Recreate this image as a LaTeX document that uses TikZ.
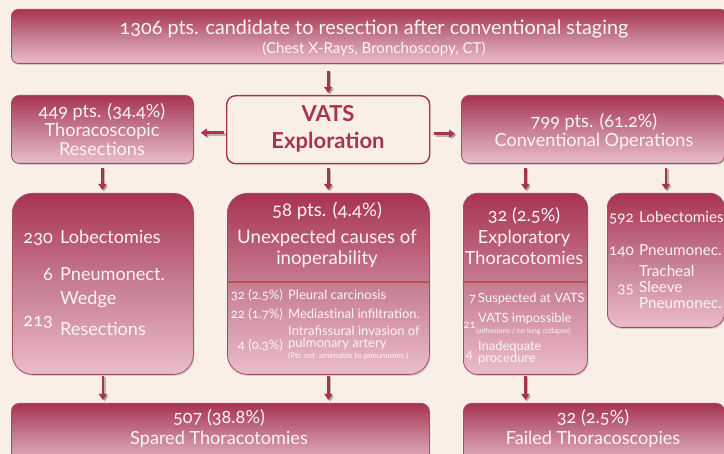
\documentclass[tikz,border=0pt]{standalone}
\usepackage{fontspec}
\setmainfont{Lato}[Numbers=OldStyle]
\usetikzlibrary{arrows.meta,shadows,calc}
\definecolor{bg}{HTML}{F9EFE6}
\definecolor{ctop}{HTML}{A8334F}
\definecolor{cmid}{HTML}{C67D92}
\definecolor{cbot}{HTML}{EBBDC9}
\definecolor{cline}{HTML}{A04D66}
\definecolor{arrowc}{HTML}{A8334F}
\definecolor{sepcol}{HTML}{C24E4E}
\definecolor{txt}{HTML}{FDF4F4}
\newcommand\fs[2]{\fontsize{#1}{#2}\selectfont}
\begin{document}
\begin{tikzpicture}[x=1pt,y=-1pt,
  box/.style={draw=cline, line width=0.8pt, top color=ctop, bottom color=cbot,
    middle color=cmid, inner sep=0pt, anchor=north west,
    drop shadow={shadow xshift=1pt,shadow yshift=-1.5pt,opacity=0.3}},
  vbox/.style={draw=arrowc, line width=1.4pt, fill=bg, inner sep=0pt, anchor=north west},
  t/.style={text=txt, inner sep=0pt},
  big/.style={t, font=\fs{18.1}{19}, align=center},
  lst/.style={t, font=\fs{13}{11}},
  arr/.style={draw=arrowc, line width=2.6pt, -{Triangle[width=8pt,length=6pt]}},
  arrsh/.style={draw=black!45, opacity=0.6, line width=2.6pt, -{Triangle[width=8pt,length=6pt]}, transform canvas={shift={(1.6pt,-1.6pt)}}},
  sep/.style={draw=sepcol, line width=1.5pt}
]
\newcommand\conn[3]{\draw[arrsh,#3] #1 -- #2; \draw[arr,#3] #1 -- #2;}
\useasboundingbox[fill=bg] (0,0) rectangle (724,454);

% boxes
\node[box, rounded corners=7pt, minimum width=716pt, minimum height=54pt] (top) at (11,9) {};
\node[box, rounded corners=8pt, minimum width=182pt, minimum height=68pt] (l2) at (11,95) {};
\node[vbox, rounded corners=9pt, minimum width=203pt, minimum height=68pt] (vats) at (226,95) {};
\node[box, rounded corners=8pt, minimum width=263pt, minimum height=68pt] (r2) at (461,95) {};
\node[box, rounded corners=20pt, minimum width=181pt, minimum height=181pt] (l3) at (12,193) {};
\node[box, rounded corners=20pt, minimum width=202pt, minimum height=181pt] (m3) at (227,193) {};
\node[box, rounded corners=14pt, minimum width=124pt, minimum height=181pt] (e3) at (463,193) {};
\node[box, rounded corners=14pt, minimum width=117pt, minimum height=134pt] (f3) at (607,193) {};
\node[box, rounded corners=8pt, minimum width=418pt, minimum height=64pt] (b1) at (11,403) {};
\node[box, rounded corners=8pt, minimum width=261pt, minimum height=64pt] (b2) at (463,403) {};

% separators
\coordinate (sy) at (0,282);
\draw[sep] (m3.west |- sy) -- (m3.east |- sy);
\draw[sep] (e3.west |- sy) -- (e3.east |- sy);

% arrows
\conn{(vats.north |- top.south)}{(vats.north)}{shorten <=7pt, shorten >=2pt}
\conn{([yshift=-3pt]vats.west)}{([yshift=-3pt]vats.west -| l2.east)}{shorten <=2pt, shorten >=7pt}
\conn{([yshift=-4pt]vats.east)}{([yshift=-4pt]vats.east -| r2.west)}{shorten <=4pt, shorten >=6pt}
\conn{(l2.south)}{(l2.south |- l3.north)}{shorten <=4pt, shorten >=3pt}
\conn{(vats.south)}{(vats.south |- m3.north)}{shorten <=4pt, shorten >=3pt}
\conn{(e3.north |- r2.south)}{(e3.north)}{shorten <=4pt, shorten >=3pt}
\conn{(f3.north |- r2.south)}{(f3.north)}{shorten <=4pt, shorten >=3pt}
\conn{(l3.south)}{(l3.south |- b1.north)}{shorten <=1pt, shorten >=3pt}
\conn{(m3.south)}{(m3.south |- b1.north)}{shorten <=1pt, shorten >=3pt}
\conn{(e3.south)}{(e3.south |- b2.north)}{shorten <=1pt, shorten >=3pt}

% top texts
\node[t, font=\fs{19.8}{20}, anchor=base] (t1) at (374,35) {1306 pts. candidate to resection after conventional staging};
\node[t, font=\fs{15.1}{16}, anchor=base] (t2) at (374,54) {(Chest X-Rays, Bronchoscopy, CT)};

% row 2 texts
\node[big] (l2t) at (102,130) {449 pts. (34.4\%)\\Thoracoscopic\\Resections};
\node[text=arrowc, inner sep=0pt, font=\bfseries\fs{22}{27}, align=center] (vt) at (328,129) {VATS\\Exploration};
\node[big] (r2t) at (594,131.5) {799 pts. (61.2\%)\\Conventional Operations};

% row 3 left
\node[t, font=\fs{18.1}{20}, anchor=base east] (n1) at (53,244) {230};
\node[t, font=\fs{18.1}{20}, anchor=base west] (s1) at (60,244) {Lobectomies};
\node[t, font=\fs{18.1}{20}, anchor=base east] (n2) at (53,281) {6};
\node[t, font=\fs{18.1}{20}, anchor=base west] (s2) at (60,281) {Pneumonect.};
\node[t, font=\fs{18.1}{20}, anchor=base east] (n3) at (53,327) {213};
\node[t, font=\fs{18.1}{20}, anchor=base west] (s3) at (60,305) {Wedge};
\node[t, font=\fs{18.1}{20}, anchor=base west] (s3b) at (60,336) {Resections};

% row 3 middle
\node[t, font=\fs{18.6}{20}, anchor=base] (m1) at (327,217) {58 pts. (4.4\%)};
\node[t, font=\fs{18.6}{20}, anchor=base] (m2) at (327,243.5) {Unexpected causes of};
\node[t, font=\fs{18.6}{20}, anchor=base] (m3t) at (327,264.5) {inoperability};
\node[lst, anchor=base east] (mn1) at (283,299.5) {32 (2.5\%)};
\node[lst, anchor=base west] (ms1) at (288,299.5) {Pleural carcinosis};
\node[lst, anchor=base east] (mn2) at (283,318.5) {22 (1.7\%)};
\node[lst, anchor=base west] (ms2) at (288,318.5) {Mediastinal infiltration.};
\node[lst, anchor=base east] (mn3) at (283,350) {4 (0.3\%)};
\node[lst, anchor=base west] (ms3) at (288,336) {Intrafissural invasion of};
\node[lst, anchor=base west] (ms3b) at (288,348) {pulmonary artery};
\node[t, font=\fs{7.9}{9}, anchor=base west] (ms3c) at (288,358.5) {(Pts not \ amenable to pneumonec.)};

% row 3 exploratory
\node[t, font=\fs{18.1}{20}, anchor=base] (e1) at (524,222) {32 (2.5\%)};
\node[t, font=\fs{18.1}{20}, anchor=base] (e2) at (524,243.5) {Exploratory};
\node[t, font=\fs{18.1}{20}, anchor=base] (e3t) at (524,265) {Thoracotomies};
\node[t, font=\fs{12.9}{11}, anchor=base east] (en1) at (476,302.5) {7};
\node[t, font=\fs{12.9}{11}, anchor=base west] (es1) at (478,302.5) {Suspected at VATS};
\node[t, font=\fs{11.5}{11}, anchor=base east] (en2) at (476,329) {21};
\node[t, font=\fs{12.9}{11}, anchor=base west] (es2) at (478,323) {VATS impossible};
\node[t, font=\fs{7.3}{8}, anchor=base west] (es2b) at (476,334) {(adhesions / no lung collapse)};
\node[t, font=\fs{12.9}{11}, anchor=base east] (en3) at (473,359) {4};
\node[t, font=\fs{12.9}{11}, anchor=base west] (es3) at (478,351) {Inadequate};
\node[t, font=\fs{12.9}{11}, anchor=base west] (es3b) at (478,363) {procedure};

% row 3 far right
\node[t, font=\fs{15.2}{16}, anchor=base east] (fn1) at (634,223) {592};
\node[t, font=\fs{15.2}{16}, anchor=base west] (fs1) at (639,223) {Lobectomies};
\node[t, font=\fs{15.2}{16}, anchor=base east] (fn2) at (634,256) {140};
\node[t, font=\fs{15.2}{16}, anchor=base west] (fs2) at (639,256) {Pneumonec.};
\node[t, font=\fs{15.2}{16}, anchor=base east] (fn3) at (634,294) {35};
\node[t, font=\fs{15.2}{16}, anchor=base west] (fs3) at (639,277) {Tracheal};
\node[t, font=\fs{15.2}{16}, anchor=base west] (fs3b) at (639,293) {Sleeve};
\node[t, font=\fs{15.2}{16}, anchor=base west] (fs3c) at (639,309) {Pneumonec.};

% bottom
\node[t, font=\fs{18.1}{20}, anchor=base] (bt1) at (219,424) {507 (38.8\%)};
\node[t, font=\fs{18.1}{20}, anchor=base] (bt2) at (219,445) {Spared Thoracotomies};
\node[t, font=\fs{18.1}{20}, anchor=base] (bt3) at (593,424) {32 (2.5\%)};
\node[t, font=\fs{18.1}{20}, anchor=base] (bt4) at (593,445) {Failed Thoracoscopies};
\end{tikzpicture}
\end{document}
